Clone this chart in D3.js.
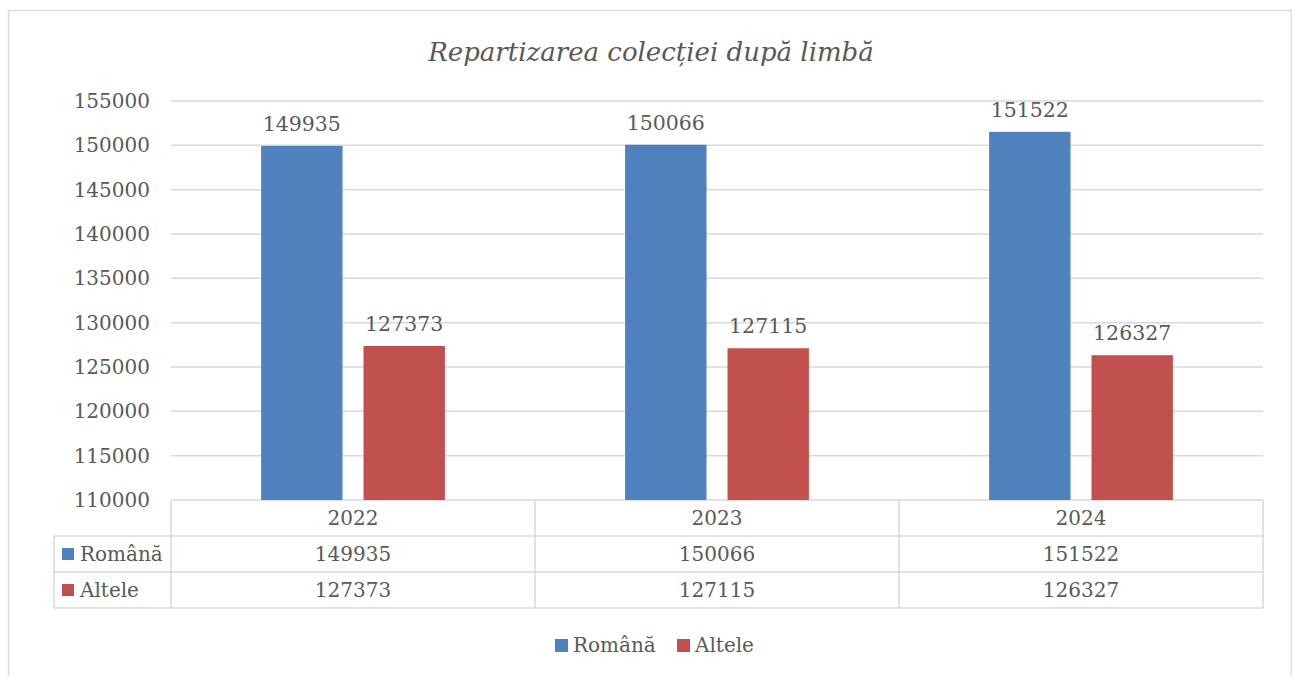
<!DOCTYPE html>
<html>
<head>
<meta charset="utf-8">
<script src="https://cdn.jsdelivr.net/npm/d3@7"></script>
<style>
  body { margin: 0; background: #fff; }
  text { font-family: "DejaVu Serif", serif; fill: #595959; }
</style>
</head>
<body>
<div id="chart"></div>
<script>
// data
const years = ["2022", "2023", "2024"];
const seriesNames = ["Română", "Altele"];
const romana = [149935, 150066, 151522];
const altele = [127373, 127115, 126327];
const yTicks = [110000, 115000, 120000, 125000, 130000, 135000, 140000, 145000, 150000, 155000];
const colors = ["#4f81bd", "#c0504d"];

const W = 1292, H = 676;
const margin = { top: 101, left: 171, right: 29, bottom: 176 };
const plotW = W - margin.left - margin.right;   // 1092
const plotH = H - margin.top - margin.bottom;   // 399
const rowH = 36;

const svg = d3.select("#chart").append("svg")
    .attr("width", W)
    .attr("height", H);

// outer chart border
svg.append("rect")
    .attr("x", 8.5).attr("y", 10.5)
    .attr("width", 1283).attr("height", 700)
    .attr("fill", "none")
    .attr("stroke", "#d9d9d9")
    .attr("stroke-width", 1.5);

// title
svg.append("text")
    .attr("x", 651).attr("y", 61)
    .attr("text-anchor", "middle")
    .style("font-style", "italic")
    .style("font-size", "26px")
    .text("Repartizarea colecției după limbă");

const g = svg.append("g")
    .attr("transform", `translate(${margin.left},${margin.top})`);

const x = d3.scaleBand()
    .domain(years)
    .range([0, plotW]);

const x1 = d3.scaleBand()
    .domain(seriesNames)
    .range([0, x.bandwidth()])
    .paddingInner(0.205)
    .paddingOuter(0.88);

const y = d3.scaleLinear()
    .domain([110000, 155000])
    .range([plotH, 0]);

// gridlines
g.append("g")
    .selectAll("line")
    .data(yTicks)
    .enter().append("line")
    .attr("x1", 0).attr("x2", plotW)
    .attr("y1", d => y(d)).attr("y2", d => y(d))
    .attr("stroke", "#d9d9d9")
    .attr("stroke-width", 1.5);

// y axis labels
const yAxis = g.append("g")
    .call(d3.axisLeft(y).tickValues(yTicks).tickSize(0).tickPadding(21).tickFormat(d3.format("d")));
yAxis.select(".domain").remove();
yAxis.selectAll("text")
    .style("font-size", "20px")
    .style("font-family", "DejaVu Serif")
    .attr("fill", "#595959");

// bars
const series = [romana, altele];
const rows = years.map((yr, i) => ({
    year: yr,
    vals: seriesNames.map((s, j) => ({ name: s, value: series[j][i], color: colors[j] }))
}));

const grp = g.selectAll(".yr")
    .data(rows)
    .enter().append("g")
    .attr("transform", d => `translate(${x(d.year)},0)`);

grp.selectAll("rect")
    .data(d => d.vals)
    .enter().append("rect")
    .attr("x", d => x1(d.name))
    .attr("y", d => y(d.value))
    .attr("width", x1.bandwidth())
    .attr("height", d => plotH - y(d.value))
    .attr("fill", d => d.color);

grp.selectAll(".lbl")
    .data(d => d.vals)
    .enter().append("text")
    .attr("x", d => x1(d.name) + x1.bandwidth() / 2)
    .attr("y", d => y(d.value) - 15)
    .attr("text-anchor", "middle")
    .style("font-size", "20.5px")
    .text(d => d.value);

// data table
const tbl = g.append("g").attr("transform", `translate(0,${plotH})`);
const lineColor = "#d9d9d9";
const tableLeft = 54 - margin.left;

// horizontal lines
[1, 2, 3].forEach(r => {
    tbl.append("line")
        .attr("x1", tableLeft).attr("x2", plotW)
        .attr("y1", r * rowH).attr("y2", r * rowH)
        .attr("stroke", lineColor).attr("stroke-width", 1.5);
});
// vertical lines
years.concat(["end"]).forEach((yr, i) => {
    const xx = i < years.length ? x(yr) : plotW;
    tbl.append("line")
        .attr("x1", xx).attr("x2", xx)
        .attr("y1", 0).attr("y2", 3 * rowH)
        .attr("stroke", lineColor).attr("stroke-width", 1.5);
});
tbl.append("line")
    .attr("x1", tableLeft).attr("x2", tableLeft)
    .attr("y1", rowH).attr("y2", 3 * rowH)
    .attr("stroke", lineColor).attr("stroke-width", 1.5);

// header: years
tbl.selectAll(".hdr")
    .data(years)
    .enter().append("text")
    .attr("x", d => x(d) + x.bandwidth() / 2)
    .attr("y", rowH / 2 + 7)
    .attr("text-anchor", "middle")
    .style("font-size", "20px")
    .text(d => d);

// series rows
seriesNames.forEach((s, j) => {
    const ry = (j + 1) * rowH;
    tbl.append("rect")
        .attr("x", tableLeft + 8).attr("y", ry + 12)
        .attr("width", 12).attr("height", 12)
        .attr("fill", colors[j]);
    tbl.append("text")
        .attr("x", tableLeft + 26).attr("y", ry + rowH / 2 + 7)
        .style("font-size", "20px")
        .text(s);
    tbl.selectAll(".v" + j)
        .data(years)
        .enter().append("text")
        .attr("x", d => x(d) + x.bandwidth() / 2)
        .attr("y", ry + rowH / 2 + 7)
        .attr("text-anchor", "middle")
        .style("font-size", "20px")
        .text((d, i) => series[j][i]);
});

// legend
const legend = svg.append("g").attr("transform", "translate(555,645)");
const legX = [0, 122];
seriesNames.forEach((s, j) => {
    legend.append("rect")
        .attr("x", legX[j]).attr("y", -6)
        .attr("width", 13).attr("height", 13)
        .attr("fill", colors[j]);
    legend.append("text")
        .attr("x", legX[j] + 18).attr("y", 7)
        .style("font-size", "20px")
        .text(s);
});
</script>
</body>
</html>
